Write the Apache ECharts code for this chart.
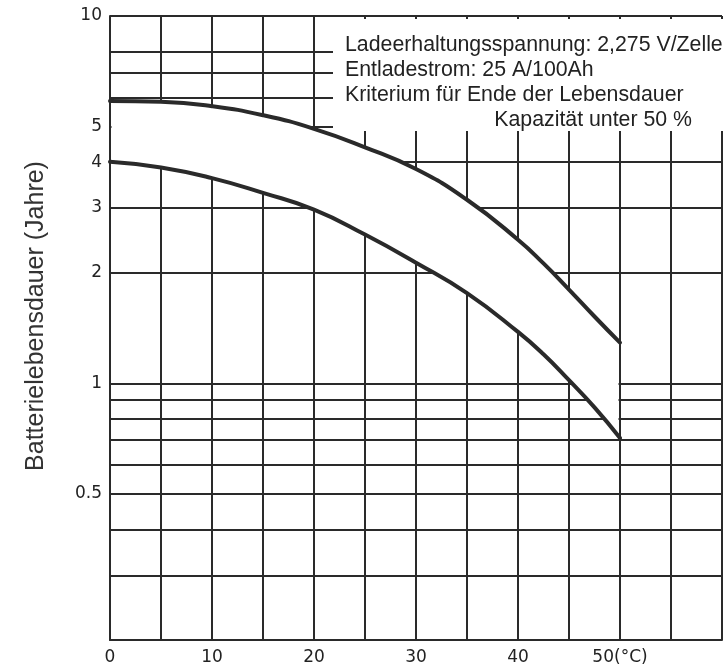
<!DOCTYPE html>
<html>
<head>
<meta charset="utf-8">
<script src="https://cdn.jsdelivr.net/npm/echarts@6/dist/echarts.min.js"></script>
<style>
  html, body { margin: 0; padding: 0; background: #fff; }
  #chart { width: 725px; height: 668px; }
</style>
</head>
<body>
<div id="chart"></div>
<script>
// temperatures (°C) and battery life (years)
const temps = [0, 5, 10, 15, 20, 25, 30, 35, 40, 42.5, 45, 47.5, 50];
const upperLife = [5.87, 5.84, 5.68, 5.37, 4.93, 4.39, 3.83, 3.16, 2.46, 2.12, 1.80, 1.52, 1.29];
const lowerLife = [4.01, 3.87, 3.62, 3.30, 2.97, 2.54, 2.13, 1.76, 1.38, 1.20, 1.02, 0.86, 0.71];

// log grid lines and labelled ticks
const yGridValues = [0.2, 0.3, 0.4, 0.5, 0.6, 0.7, 0.8, 0.9, 1, 2, 3, 4, 5, 6, 7, 8, 10];
const yLabelValues = [0.5, 1, 2, 3, 4, 5, 10];
const xLabelValues = [0, 10, 20, 30, 40, 50];

const notes = [
  "Ladeerhaltungsspannung: 2,275 V/Zelle",
  "Entladestrom: 25 A/100Ah",
  "Kriterium für Ende der Lebensdauer",
  "Kapazität unter 50 %"
];

const lineColor = "#2a2a2a";
const noteFont = "21.3px 'Liberation Sans'";
const chart = echarts.init(document.getElementById("chart"));

const option = {
  animation: false,
  backgroundColor: "#fff",
  grid: { left: 110, top: 16, bottom: 28, right: -9 },
  xAxis: {
    type: "value",
    min: 0,
    max: 60,
    interval: 5,
    axisLine: { show: true, lineStyle: { color: lineColor, width: 2 } },
    axisTick: { show: false },
    axisLabel: {
      margin: 9,
      color: "#222",
      fontFamily: "DejaVu Sans",
      fontSize: 17,
      formatter: v => {
        if (!xLabelValues.includes(v)) return "";
        return v === 50 ? "50(°C)" : String(v);
      }
    },
    splitLine: { show: true, lineStyle: { color: lineColor, width: 2 } }
  },
  yAxis: {
    type: "log",
    logBase: 10,
    min: 0.2,
    max: 10,
    axisLine: { show: true, lineStyle: { color: lineColor, width: 2 } },
    axisTick: { show: false, customValues: yGridValues },
    axisLabel: {
      customValues: yLabelValues,
      margin: 8,
      color: "#222",
      fontFamily: "DejaVu Sans",
      fontSize: 17,
      formatter: v => String(v)
    },
    splitLine: { show: true, lineStyle: { color: lineColor, width: 2 } }
  },
  graphic: [
    {
      type: "rect",
      z: 100,
      shape: { x: 333, y: 19, width: 400, height: 112 },
      style: { fill: "#fff" }
    },
    {
      type: "text", z: 101, x: 345, y: 45.5,
      style: { text: notes[0], font: noteFont, fill: "#222", verticalAlign: "middle" }
    },
    {
      type: "text", z: 101, x: 345, y: 70.5,
      style: { text: notes[1], font: noteFont, fill: "#222", verticalAlign: "middle" }
    },
    {
      type: "text", z: 101, x: 345, y: 95.5,
      style: { text: notes[2], font: noteFont, fill: "#222", verticalAlign: "middle" }
    },
    {
      type: "text", z: 101, x: 692, y: 120.5,
      style: { text: notes[3], font: noteFont, fill: "#222", align: "right", verticalAlign: "middle" }
    },
    {
      type: "text",
      z: 101,
      x: 36, y: 316,
      rotation: Math.PI / 2,
      style: {
        text: "Batterielebensdauer (Jahre)",
        font: "25px 'Liberation Sans'",
        fill: "#333",
        align: "center",
        verticalAlign: "middle"
      }
    }
  ],
  series: [
    {
      // white band between the two curves hides the grid (ends kept inside the border lines)
      type: "custom",
      z: 2,
      silent: true,
      data: [[0, 1]],
      renderItem: (params, api) => {
        const last = temps.length - 1;
        const inset = i => (i === 0 ? 1.5 : i === last ? -1.5 : 0);
        const pts = [];
        temps.forEach((t, i) => {
          const p = api.coord([t, upperLife[i]]);
          pts.push([p[0] + inset(i), p[1]]);
        });
        for (let i = last; i >= 0; i--) {
          const p = api.coord([temps[i], lowerLife[i]]);
          pts.push([p[0] + inset(i), p[1]]);
        }
        return { type: "polygon", shape: { points: pts }, style: { fill: "#fff" } };
      }
    },
    {
      name: "upper",
      type: "line",
      z: 3,
      data: temps.map((t, i) => [t, upperLife[i]]),
      smooth: 0.5,
      symbol: "none",
      lineStyle: { color: lineColor, width: 4, cap: "round" }
    },
    {
      name: "lower",
      type: "line",
      z: 3,
      data: temps.map((t, i) => [t, lowerLife[i]]),
      smooth: 0.5,
      symbol: "none",
      lineStyle: { color: lineColor, width: 4, cap: "round" }
    }
  ]
};

chart.setOption(option);
window.addEventListener("resize", () => chart.resize());
</script>
</body>
</html>
